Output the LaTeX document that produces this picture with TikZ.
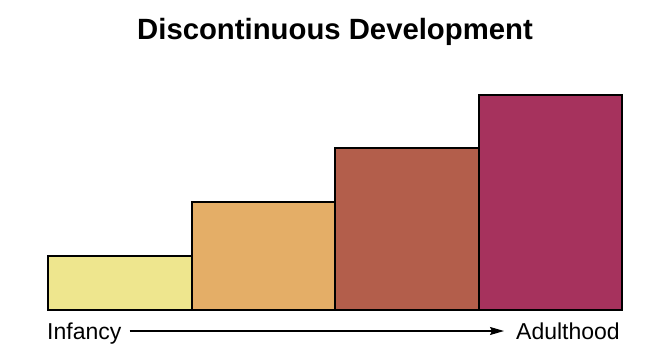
\documentclass[tikz,border=0pt]{standalone}
\usepackage{fontspec}
\setmainfont{Liberation Sans}
\usetikzlibrary{arrows.meta,calc}
\definecolor{barA}{HTML}{EEE68E}
\definecolor{barB}{HTML}{E4AE67}
\definecolor{barC}{HTML}{B35E4B}
\definecolor{barD}{HTML}{A6325D}
\tikzset{
  barbox/.style={draw=black,line width=2pt,inner sep=0pt,anchor=south west,minimum width=143.5pt},
  axislabel/.style={inner sep=0pt,font=\fontsize{23}{26}\selectfont}
}
\begin{document}
\begin{tikzpicture}[x=1pt,y=1pt]
\useasboundingbox (0,0) rectangle (658,362);
\node[inner sep=0pt,anchor=base,font=\bfseries\fontsize{29.3}{32}\selectfont] (title) at (335,322) {Discontinuous Development};
\node[barbox,fill=barA,minimum height=54pt] (b1) at (47,51) {};
\node[barbox,fill=barB,minimum height=108pt] (b2) at (190.5,51) {};
\node[barbox,fill=barC,minimum height=162pt] (b3) at (334,51) {};
\node[barbox,fill=barD,minimum height=215pt] (b4) at (477.5,51) {};
\node[axislabel,anchor=base west] (inf) at (47,23) {Infancy};
\node[axislabel,anchor=base east] (adu) at (620,23) {Adulthood};
\draw[line width=1.3pt,-{Stealth[length=14pt,width=8pt,inset=2pt]}] ($(inf.base east)+(8,8)$) -- ($(adu.base west)+(-12,8)$);
\end{tikzpicture}
\end{document}
